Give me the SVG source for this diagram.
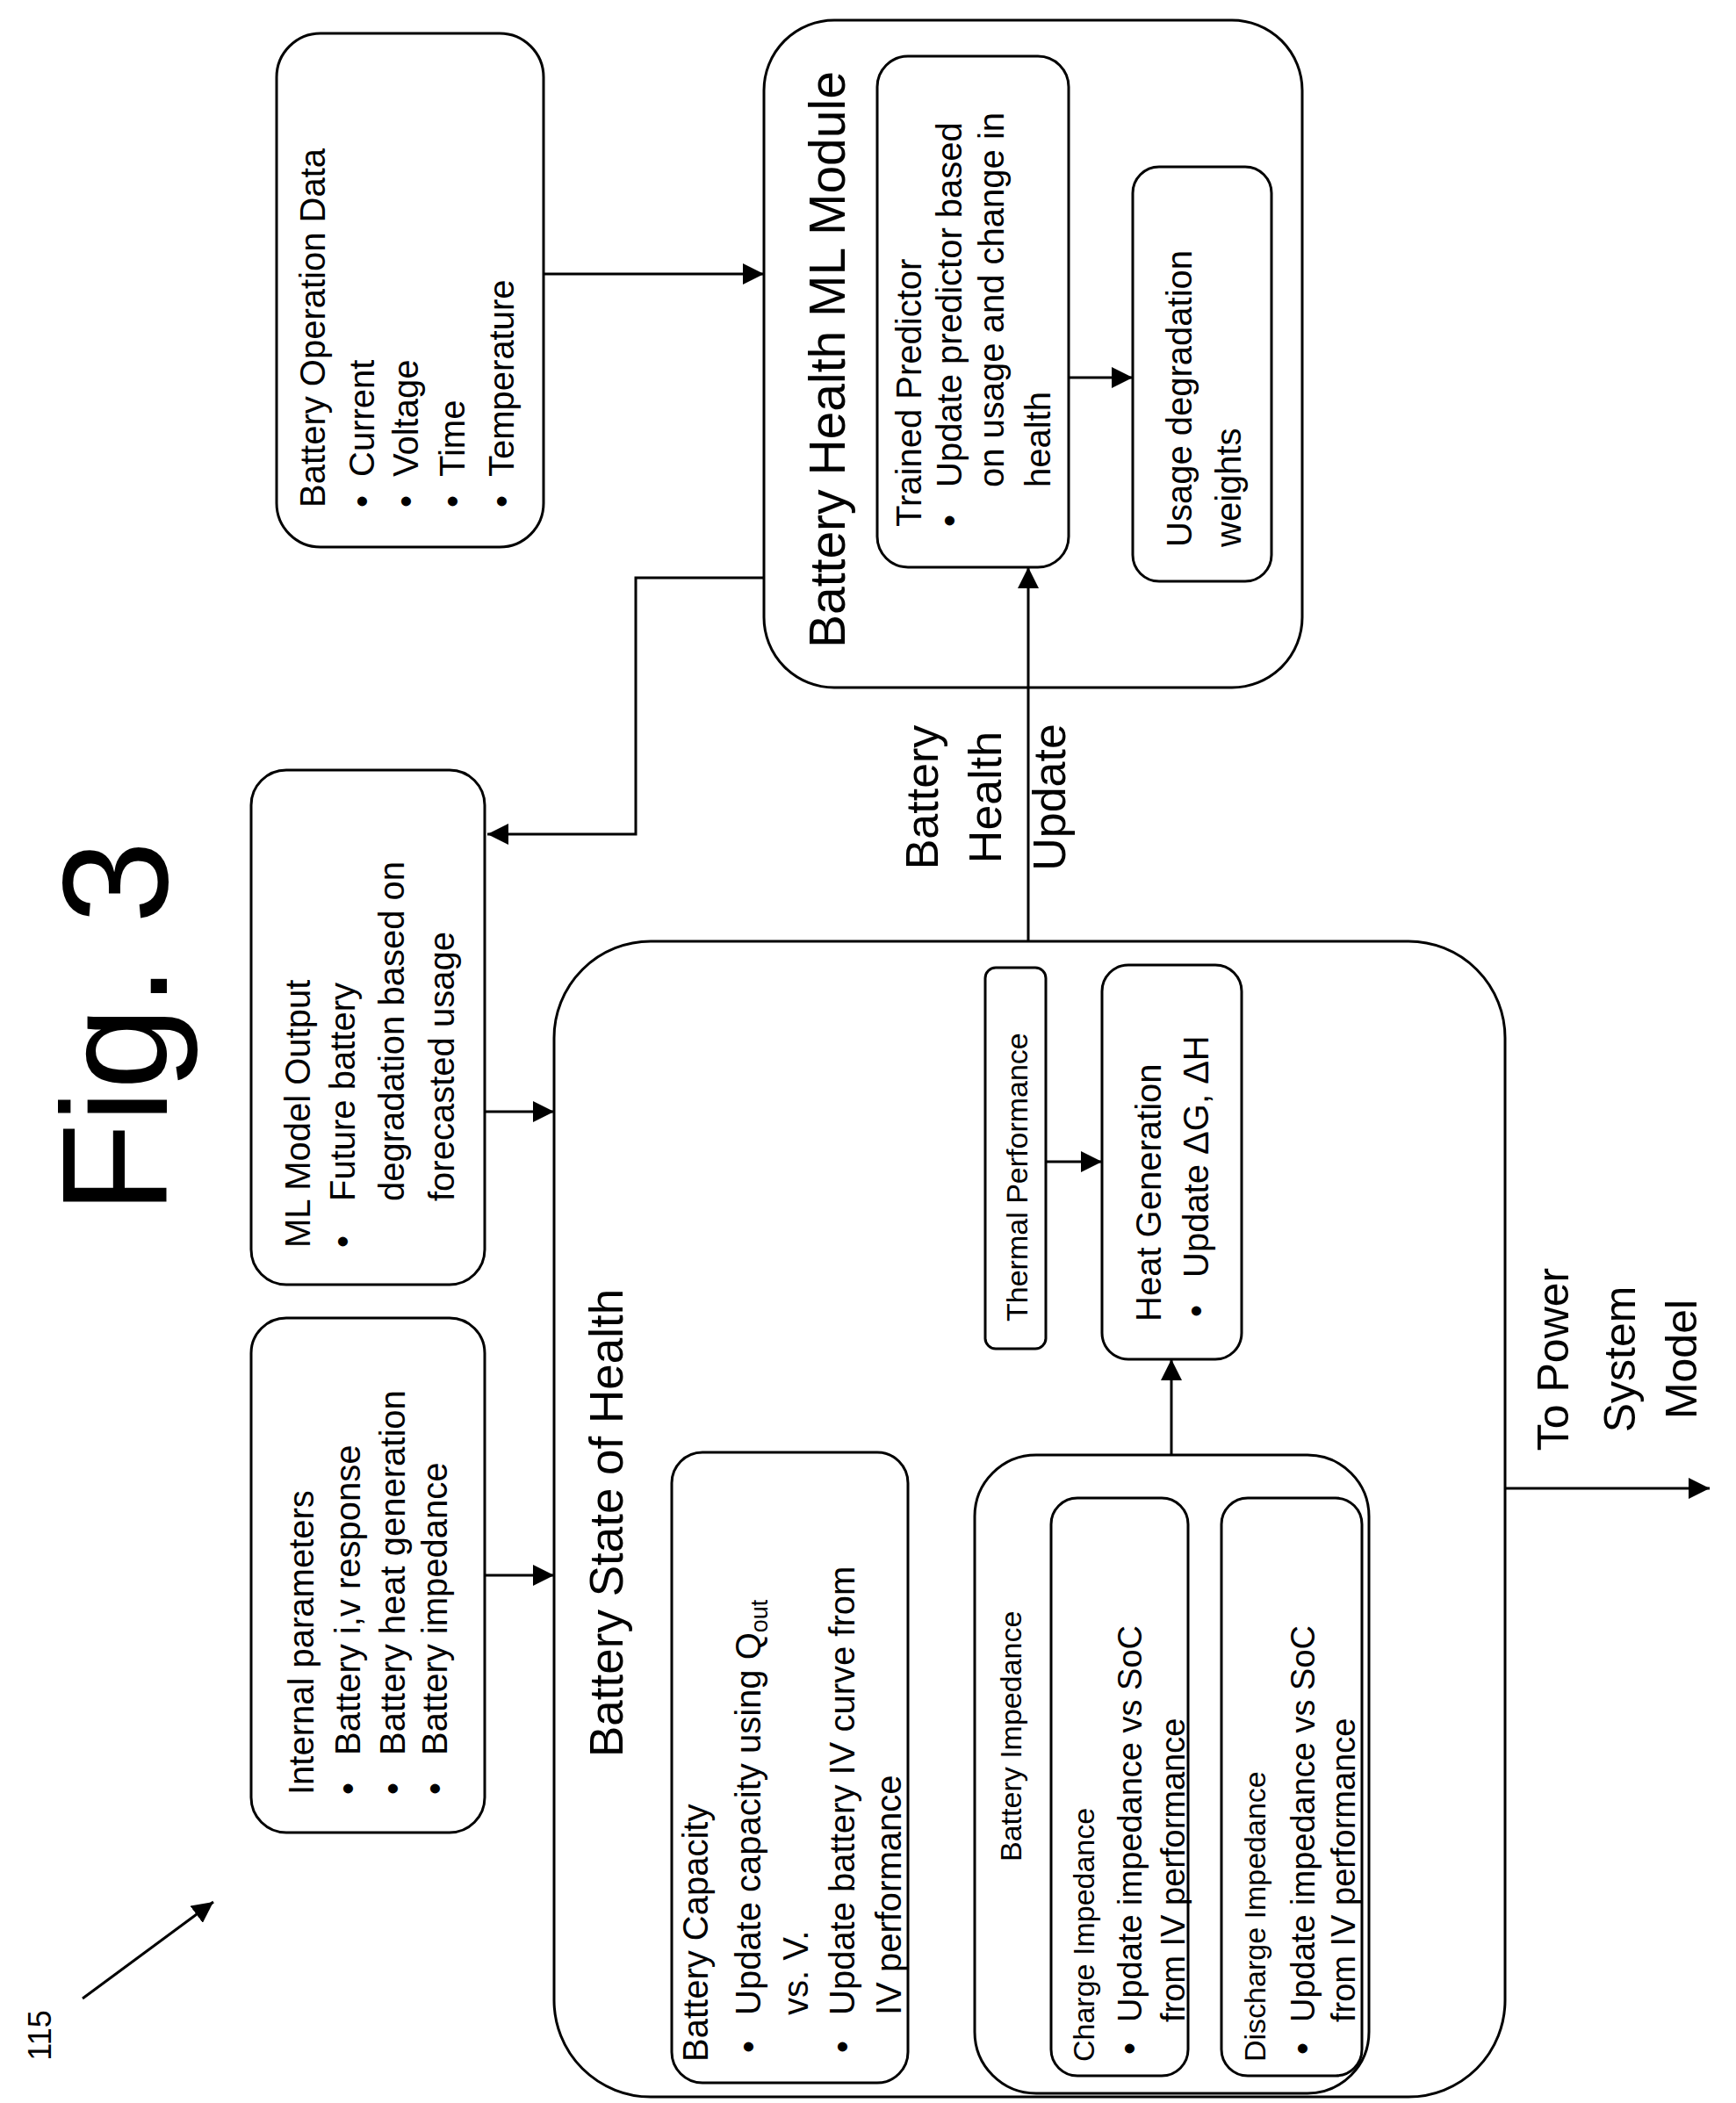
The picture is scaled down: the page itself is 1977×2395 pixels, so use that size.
<svg xmlns="http://www.w3.org/2000/svg" width="1977" height="2395" viewBox="0 0 1977 2395">
<style>
rect{fill:#fff;stroke:#000;stroke-width:3}
text{font-family:"Liberation Sans",Arial,sans-serif;font-size:40px;fill:#000}
.t{font-size:57px}.s{font-size:34px}.b{font-size:52px}
.c line,.c path{stroke:#000;stroke-width:3;fill:none}
</style>
<defs><marker id="m" viewBox="0 0 10 10" refX="10" refY="5" markerWidth="24" markerHeight="24" markerUnits="userSpaceOnUse" orient="auto"><path d="M0,0L10,5L0,10z" fill="#000"/></marker></defs>
<text style="font-size:170px" transform="translate(190,1170) rotate(-90)" text-anchor="middle">Fig. 3</text>
<text style="font-size:36px" transform="translate(58,2318) rotate(-90)" text-anchor="middle">115</text>
<g id="opdata"><rect x="315" y="38" width="304" height="585" rx="50"/>
<g transform="translate(0,578) rotate(-90)"><text x="0" y="370">Battery Operation Data</text><text x="0" y="426">•</text><text x="0" y="476">•</text><text x="0" y="529">•</text><text x="0" y="585">•</text>
<text x="35" y="426">Current</text><text x="35" y="476">Voltage</text><text x="35" y="529">Time</text><text x="35" y="585">Temperature</text></g></g>
<g id="mlmodule"><rect x="870" y="23" width="613" height="760" rx="80"/>
<text class="t" transform="translate(0,738) rotate(-90)" x="0" y="962">Battery Health ML Module</text></g>
<g id="trained"><rect x="999" y="64" width="218" height="582" rx="35"/>
<g transform="translate(0,600) rotate(-90)"><text x="0" y="1049">Trained Predictor</text><text x="0" y="1095">•</text>
<text x="45" y="1095">Update predictor based</text><text x="45" y="1143">on usage and change in</text><text x="45" y="1196">health</text></g></g>
<g id="usage"><rect x="1290" y="190" width="158" height="472" rx="30"/>
<g transform="translate(0,623) rotate(-90)"><text x="0" y="1357">Usage degradation</text><text x="0" y="1413">weights</text></g></g>
<g id="mloutput"><rect x="286" y="877" width="266" height="586" rx="40"/>
<g transform="translate(0,1421) rotate(-90)"><text x="0" y="353">ML Model Output</text><text x="0" y="404">•</text>
<text x="53" y="404">Future battery</text><text x="53" y="460">degradation based on</text><text x="53" y="517">forecasted usage</text></g></g>
<g id="internal"><rect x="286" y="1501" width="266" height="586" rx="40"/>
<g transform="translate(0,2044) rotate(-90)"><text x="0" y="357">Internal parameters</text><text x="0" y="410">•</text><text x="0" y="461">•</text><text x="0" y="509">•</text>
<text x="45" y="410">Battery i,v response</text><text x="45" y="461">Battery heat generation</text><text x="45" y="509">Battery impedance</text></g></g>
<g id="soh"><rect x="631" y="1072" width="1083" height="1316" rx="110"/>
<text style="font-size:53px" transform="translate(0,2001) rotate(-90)" x="0" y="709">Battery State of Health</text></g>
<g id="capacity"><rect x="765" y="1654" width="269" height="718" rx="35"/>
<g transform="translate(0,2348) rotate(-90)"><text x="0" y="806">Battery Capacity</text><text x="10" y="866">•</text><text x="10" y="973">•</text>
<text x="53" y="866">Update capacity using Q<tspan style="font-size:27px" dy="8">out</tspan></text><text x="53" y="920">vs. V.</text>
<text x="53" y="973">Update battery IV curve from</text><text x="53" y="1026">IV performance</text></g></g>
<g id="impedance"><rect x="1110" y="1657" width="449" height="727" rx="70"/>
<text class="s" transform="translate(0,2120) rotate(-90)" x="0" y="1163">Battery Impedance</text></g>
<g id="charge"><rect x="1197" y="1706" width="156" height="658" rx="30"/>
<g transform="translate(0,2348) rotate(-90)"><text class="s" x="0" y="1246">Charge Impedance</text><text x="8" y="1300">•</text>
<text style="font-size:38px" x="45" y="1300">Update impedance vs SoC</text><text style="font-size:38px" x="45" y="1349">from IV performance</text></g></g>
<g id="discharge"><rect x="1391" y="1706" width="160" height="658" rx="30"/>
<g transform="translate(0,2348) rotate(-90)"><text class="s" x="0" y="1441">Discharge Impedance</text><text x="8" y="1497">•</text>
<text style="font-size:38px" x="45" y="1497">Update impedance vs SoC</text><text style="font-size:38px" x="45" y="1543">from IV performance</text></g></g>
<g id="thermal"><rect x="1122" y="1102" width="69" height="434" rx="12"/>
<text class="s" transform="translate(0,1505) rotate(-90)" x="0" y="1170">Thermal Performance</text></g>
<g id="heat"><rect x="1255" y="1099" width="159" height="449" rx="30"/>
<g transform="translate(0,1505) rotate(-90)"><text x="0" y="1322">Heat Generation</text><text x="5" y="1376">•</text><text x="50" y="1376">Update ΔG, ΔH</text></g></g>
<g transform="translate(0,908) rotate(-90)" text-anchor="middle"><text class="b" x="0" y="1068">Battery</text><text class="b" x="0" y="1140">Health</text><text class="b" x="0" y="1213">Update</text></g>
<g transform="translate(0,1548) rotate(-90)" text-anchor="middle"><text style="font-size:50px" x="0" y="1786">To Power</text><text style="font-size:50px" x="0" y="1862">System</text><text style="font-size:50px" x="0" y="1932">Model</text></g>
<g class="c">
<line x1="619" y1="312" x2="870" y2="312" marker-end="url(#m)"/>
<path d="M870,658H724V950H555" marker-end="url(#m)"/>
<line x1="552" y1="1266" x2="631" y2="1266" marker-end="url(#m)"/>
<line x1="552" y1="1794" x2="631" y2="1794" marker-end="url(#m)"/>
<line x1="1171" y1="1072" x2="1171" y2="646" marker-end="url(#m)"/>
<line x1="1217" y1="430" x2="1290" y2="430" marker-end="url(#m)"/>
<line x1="1191" y1="1323" x2="1255" y2="1323" marker-end="url(#m)"/>
<line x1="1334" y1="1657" x2="1334" y2="1548" marker-end="url(#m)"/>
<line x1="1714" y1="1695" x2="1947" y2="1695" marker-end="url(#m)"/>
<line x1="94" y1="2276" x2="243" y2="2166" marker-end="url(#m)"/>
</g>
</svg>
